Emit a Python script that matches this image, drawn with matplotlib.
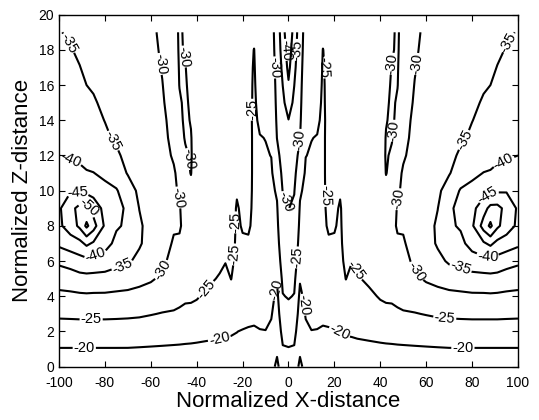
import numpy as np
import matplotlib
matplotlib.use("Agg")
import matplotlib.pyplot as plt

# tabulated columns, left half only (the field is mirrored about x = 0)
x_half = [-100, -95, -91, -88, -85, -80, -75, -70, -65, -60, -55, -50, -47.5, -45,
          -42.5, -40, -35, -30, -27.5, -25, -22.5, -20, -17.5, -15, -12.5, -10,
          -7.5, -5, -2.5, 0]
z_rows = list(range(20))

# level in dB, one list per x column, from z = 0 up to z = 19
db_cols = [
    [-17.0, -19.8, -22.8, -25.8, -28.9, -32.0, -36.0, -41.0, -44.0, -44.3, -43.0, -41.5, -40.0, -39.0, -38.3, -37.6, -37.0, -36.3, -35.7, -35.2],
    [-17.0, -19.8, -22.8, -25.9, -29.0, -32.6, -37.0, -42.5, -47.5, -48.5, -44.6, -41.8, -39.4, -38.5, -37.7, -37.0, -36.3, -35.8, -35.2, -34.5],
    [-17.0, -19.8, -22.8, -26.0, -29.2, -33.3, -38.2, -43.5, -51.0, -51.5, -44.3, -41.3, -38.8, -37.8, -37.0, -36.3, -35.7, -35.1, -34.4, -33.8],
    [-17.0, -19.8, -22.8, -26.0, -29.3, -33.5, -38.6, -46.0, -56.0, -51.5, -43.5, -40.4, -38.2, -37.2, -36.4, -35.6, -35.0, -34.3, -33.7, -33.1],
    [-17.0, -19.8, -22.8, -26.0, -29.2, -33.4, -38.3, -44.3, -52.0, -48.0, -43.0, -40.1, -38.0, -37.0, -36.2, -35.4, -34.6, -34.0, -33.4, -32.8],
    [-17.0, -19.8, -22.8, -26.0, -29.2, -33.2, -37.8, -41.8, -44.2, -43.5, -41.3, -39.0, -37.0, -35.8, -34.9, -34.2, -33.6, -33.1, -32.7, -32.3],
    [-17.0, -19.8, -22.8, -25.9, -29.0, -32.6, -36.5, -38.8, -40.5, -41.0, -40.3, -38.0, -35.8, -34.3, -33.6, -33.0, -32.5, -32.1, -31.8, -31.5],
    [-17.0, -19.8, -22.7, -25.8, -28.9, -32.0, -35.7, -38.0, -39.3, -39.4, -37.8, -34.6, -33.6, -33.0, -32.5, -32.1, -31.7, -31.3, -31.0, -30.7],
    [-17.0, -19.7, -22.6, -25.6, -28.6, -31.2, -33.6, -35.6, -35.8, -34.9, -33.8, -33.0, -32.3, -31.8, -31.4, -31.1, -30.9, -30.8, -30.7, -30.6],
    [-17.0, -19.6, -22.4, -25.2, -28.4, -30.4, -32.0, -32.8, -33.0, -32.8, -32.3, -31.9, -31.5, -31.2, -31.0, -30.8, -30.7, -30.6, -30.5, -30.4],
    [-17.0, -19.5, -22.2, -24.8, -27.3, -29.4, -30.6, -31.2, -31.3, -31.2, -31.0, -30.8, -30.6, -30.5, -30.4, -30.2, -30.05, -29.9, -29.75, -29.6],
    [-17.0, -19.4, -22.0, -24.6, -26.6, -28.0, -29.0, -29.7, -30.3, -30.5, -30.4, -30.2, -29.8, -29.5, -29.3, -29.1, -29.0, -28.9, -28.8, -28.8],
    [-17.0, -19.35, -21.9, -24.3, -26.2, -27.6, -28.8, -29.6, -30.3, -30.1, -29.7, -29.5, -29.5, -29.5, -29.6, -29.8, -30.05, -30.15, -30.3, -30.4],
    [-17.0, -19.3, -21.7, -24.0, -25.7, -27.0, -28.0, -28.7, -29.2, -29.4, -29.5, -29.6, -29.8, -30.1, -30.3, -30.3, -30.2, -30.08, -29.8, -29.6],
    [-17.0, -19.25, -21.6, -24.0, -25.6, -26.8, -27.7, -28.3, -28.8, -29.2, -29.6, -30.05, -30.15, -30.1, -29.9, -29.7, -29.5, -29.3, -29.1, -29.0],
    [-17.0, -19.2, -21.4, -23.8, -25.3, -26.4, -27.2, -27.8, -28.2, -28.5, -28.8, -29.0, -29.0, -28.9, -28.8, -28.7, -28.6, -28.5, -28.4, -28.3],
    [-17.0, -19.1, -21.0, -22.8, -24.3, -25.6, -26.4, -27.0, -27.4, -27.7, -27.9, -28.0, -28.0, -28.0, -27.9, -27.8, -27.7, -27.6, -27.5, -27.4],
    [-17.0, -19.0, -20.7, -22.3, -23.6, -24.7, -25.7, -26.3, -26.7, -27.0, -27.2, -27.3, -27.4, -27.4, -27.3, -27.2, -27.1, -27.0, -26.9, -26.8],
    [-17.0, -18.9, -20.5, -22.0, -23.3, -24.3, -25.1, -25.9, -26.4, -26.8, -27.0, -27.1, -27.1, -27.1, -27.0, -26.9, -26.8, -26.7, -26.7, -26.6],
    [-17.0, -19.1, -20.3, -22.3, -24.0, -25.05, -25.6, -26.0, -26.3, -26.5, -26.7, -26.8, -26.8, -26.8, -26.7, -26.6, -26.5, -26.5, -26.4, -26.3],
    [-17.0, -19.2, -20.05, -21.8, -23.2, -23.9, -24.3, -24.5, -24.6, -24.7, -25.3, -26.0, -26.2, -26.3, -26.3, -26.3, -26.2, -26.2, -26.1, -26.0],
    [-17.0, -18.8, -19.8, -21.5, -22.8, -23.6, -24.2, -24.7, -25.2, -25.6, -25.9, -26.0, -26.1, -26.1, -26.0, -26.0, -25.9, -25.9, -25.8, -25.8],
    [-17.0, -18.6, -19.6, -21.2, -22.5, -23.4, -24.0, -24.6, -25.4, -25.7, -25.8, -25.9, -25.9, -25.9, -25.8, -25.8, -25.7, -25.7, -25.7, -25.7],
    [-16.8, -18.4, -19.5, -21.0, -22.3, -23.2, -23.8, -24.1, -24.3, -24.4, -24.5, -24.5, -24.5, -24.5, -24.5, -24.6, -24.7, -24.8, -24.95, -25.6],
    [-17.0, -18.5, -19.8, -21.3, -22.4, -23.2, -23.6, -23.9, -24.1, -24.2, -24.3, -24.4, -24.6, -24.9, -25.4, -25.8, -26.1, -26.4, -26.6, -26.8],
    [-17.0, -18.6, -19.9, -21.2, -22.2, -22.9, -23.3, -23.6, -23.8, -24.0, -24.2, -24.5, -24.8, -25.05, -25.6, -26.1, -26.6, -27.0, -27.3, -27.6],
    [-16.5, -18.0, -19.3, -20.3, -21.2, -22.3, -23.0, -23.4, -23.7, -24.0, -24.3, -24.6, -25.05, -25.6, -26.3, -27.0, -27.5, -28.0, -28.4, -28.7],
    [-14.0, -15.8, -17.0, -18.0, -19.0, -20.4, -22.6, -23.6, -24.2, -24.7, -25.4, -26.8, -28.6, -30.1, -30.6, -30.9, -31.1, -31.3, -31.5, -31.6],
    [-17.5, -19.6, -21.4, -23.2, -24.8, -26.0, -26.9, -27.7, -28.5, -29.3, -30.2, -31.2, -32.0, -32.7, -33.4, -34.1, -35.05, -36.2, -37.4, -38.5],
    [-17.8, -19.8, -21.6, -23.6, -25.3, -26.5, -27.4, -28.2, -29.1, -30.1, -31.3, -32.4, -33.3, -34.2, -34.9, -37.0, -39.5, -41.2, -42.3, -43.0],
]

contour_levels = [-55, -50, -45, -40, -35, -30, -25, -20, -15]
x_ticks = list(range(-100, 101, 20))
z_ticks = list(range(0, 21, 2))

# where the inline level labels sit along the lines
label_spots = [
    (-89, 1.0), (-86, 2.7), (-30, 1.5), (-36, 4.4), (-53, 5.3), (-72, 5.6),
    (-84, 6.3), (-92, 9.8), (-88.5, 8.9), (-95, 11.7), (-77, 12.8), (-95.5, 18.4),
    (-56, 17.2), (-48.6, 9.6), (-46.5, 17.6), (-43.5, 11.8), (-16, 14.6),
    (-24.5, 8.2), (-14, 6.3), (-7, 4.4), (-6.3, 17), (-1.5, 18), (-3, 9.3),
    (4, 18), (4, 12.9), (16, 17), (15.2, 9.7), (4.4, 6.2), (5.5, 3.5),
    (21, 1.8), (29.7, 5.5), (46, 17.2), (56, 17.2), (46, 13.4), (48.6, 9.5),
    (54.4, 5.3), (74.7, 5.5), (87, 6.3), (68, 2.65), (76, 0.95), (76.3, 12.9),
    (93.6, 11.7), (87, 9.7), (96, 18.4),
]

# build the full symmetric grid
half = np.array(db_cols).T
field = np.hstack([half, half[:, -2::-1]])
x = np.concatenate([np.array(x_half), -np.array(x_half[-2::-1])])
z = np.array(z_rows)

plt.rcParams["font.family"] = ["Liberation Sans", "DejaVu Sans"]
plt.rcParams["axes.unicode_minus"] = False

fig = plt.figure(figsize=(5.39, 4.20), dpi=100)
ax = fig.add_axes([0.1095, 0.127, 0.8515, 0.838])

cs = ax.contour(x, z, field, levels=contour_levels, colors="black",
                linewidths=1.5, negative_linestyles="solid")
ax.clabel(cs, fmt="%d", fontsize=10.5, inline=True, inline_spacing=1,
          manual=label_spots)

ax.set_xlim(-100, 100)
ax.set_ylim(0, 20)
ax.set_xticks(x_ticks)
ax.set_yticks(z_ticks)
ax.tick_params(direction="in", top=True, right=True, labelsize=10, length=4, width=0.8)
ax.tick_params(axis="x", pad=6.5)
for s in ax.spines.values():
    s.set_linewidth(1.0)

ax.set_xlabel("Normalized X-distance", fontsize=16, labelpad=1)
ax.set_ylabel("Normalized Z-distance", fontsize=16, labelpad=4)

fig.savefig("out.png", dpi=100)
